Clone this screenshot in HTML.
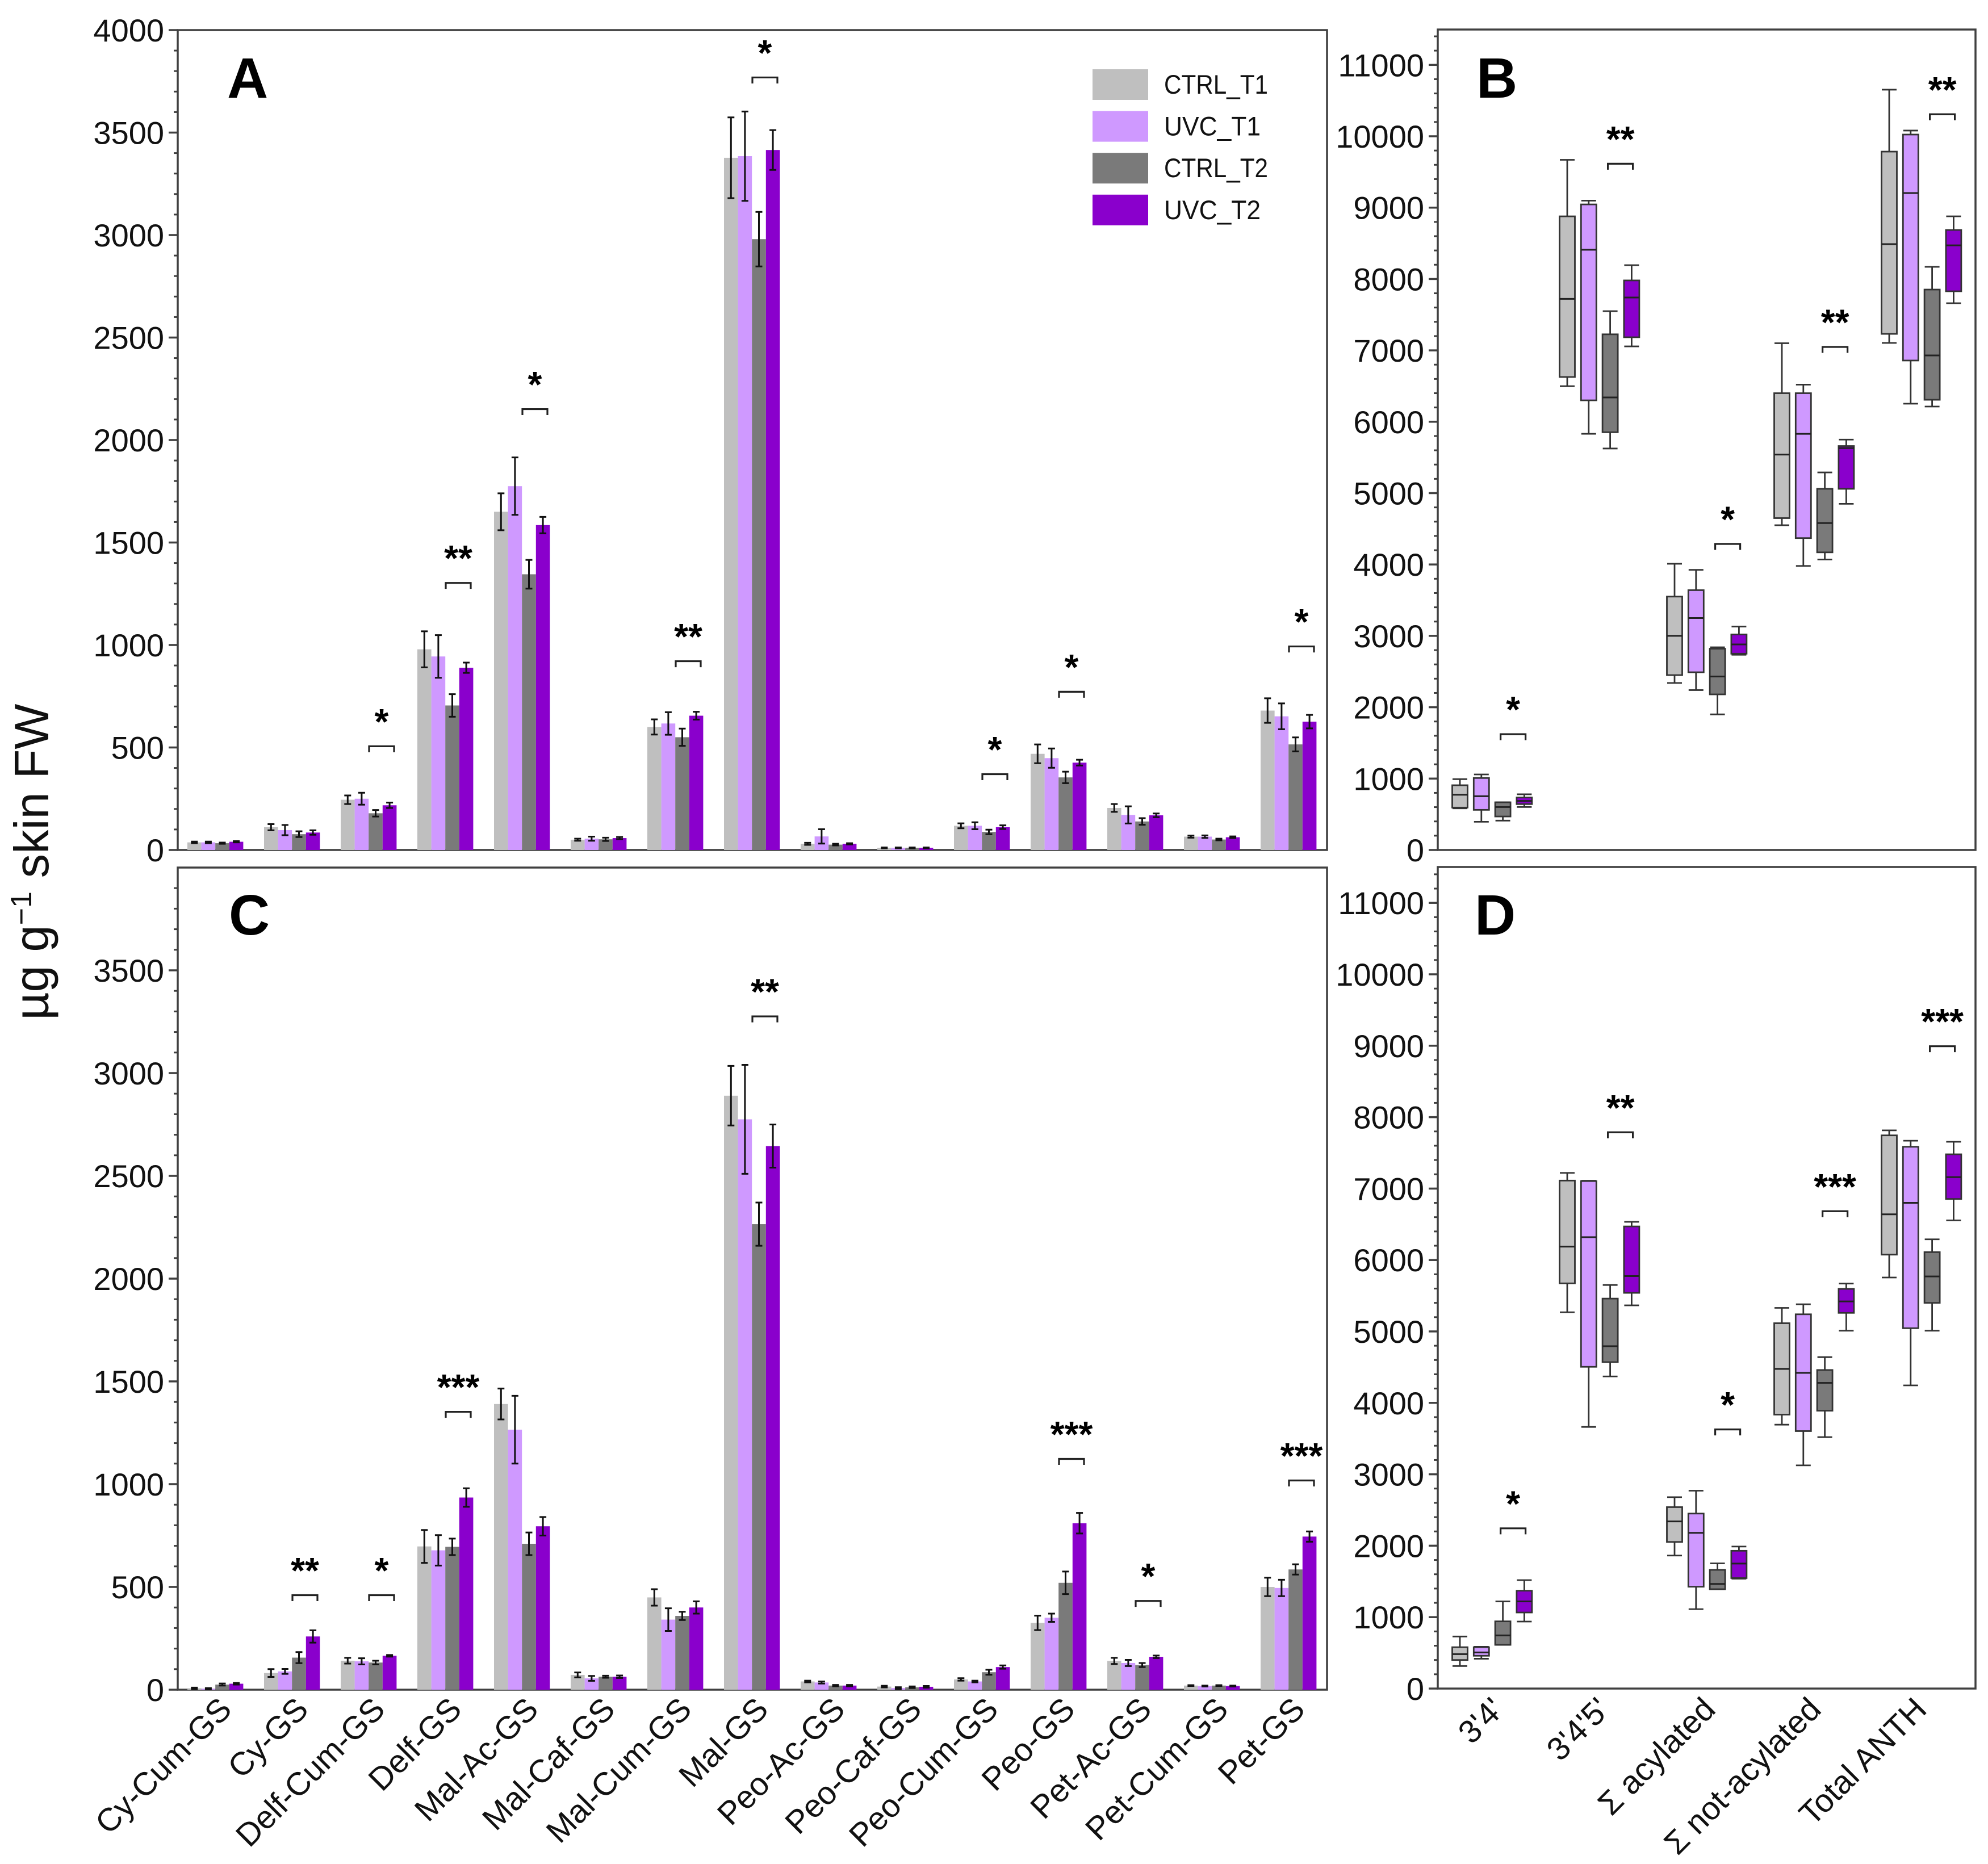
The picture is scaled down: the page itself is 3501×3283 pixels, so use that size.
<!DOCTYPE html>
<html>
<head>
<meta charset="utf-8">
<title>Anthocyanin chart</title>
<style>
html,body{margin:0;padding:0;background:#fff}
svg{display:block}
text{font-family:"Liberation Sans",sans-serif;fill:#111}
</style>
</head>
<body>
<svg id="chart" xmlns="http://www.w3.org/2000/svg" width="3501" height="3283" viewBox="0 0 3501 3283">
<rect width="3501" height="3283" fill="#fff"/>
<text transform="translate(85,1518) rotate(-90)" text-anchor="middle" font-size="85">µg g<tspan dy="-30" font-size="52">−1</tspan><tspan dy="30"> skin FW</tspan></text>
</svg>
<script>
const categories = ["Cy-Cum-GS","Cy-GS","Delf-Cum-GS","Delf-GS","Mal-Ac-GS","Mal-Caf-GS","Mal-Cum-GS","Mal-GS","Peo-Ac-GS","Peo-Caf-GS","Peo-Cum-GS","Peo-GS","Pet-Ac-GS","Pet-Cum-GS","Pet-GS"];
const boxCategories = ["3'4'","3'4'5'","Σ acylated","Σ not-acylated","Total ANTH"];
const seriesNames = ["CTRL_T1","UVC_T1","CTRL_T2","UVC_T2"];
const seriesColors = ["#bfbfbf","#cf99ff","#7a7a7a","#8a00cc"];

const barTicksA = [0,500,1000,1500,2000,2500,3000,3500,4000];
const barTicksC = [0,500,1000,1500,2000,2500,3000,3500];
const boxTicks = [0,1000,2000,3000,4000,5000,6000,7000,8000,9000,10000,11000];

const aCtrlT1 = [37,111,245,979,1650,50,600,3377,30,10,118,469,205,65,680];
const aUvcT1 = [37,97,250,944,1775,55,617,3385,66,10,118,448,171,65,652];
const aCtrlT2 = [33,77,179,705,1345,52,550,2980,26,10,88,354,139,51,515];
const aUvcT2 = [40,85,218,889,1585,58,655,3415,30,10,111,426,169,62,626];
const aErrCtrlT1 = [4,15,21,88,90,5,37,197,5,2,12,46,19,5,60];
const aErrUvcT1 = [4,25,29,104,140,10,55,218,35,2,17,47,42,6,63];
const aErrCtrlT2 = [3,14,16,55,70,8,42,133,4,2,11,28,16,4,34];
const aErrUvcT2 = [3,11,13,25,40,5,19,97,3,2,9,14,9,4,33];
const aSigGroups = [2,3,4,6,7,10,11,14];
const aSigLevels = [510,1307,2155,925,3773,374,776,997];
const aSigStars = ["*","**","*","**","*","*","*","*"];

const cCtrlT1 = [7,81,141,697,1390,72,449,2890,40,15,50,325,140,20,500];
const cUvcT1 = [5,89,138,678,1265,55,341,2775,35,8,40,350,130,18,495];
const cCtrlT2 = [25,156,132,695,710,63,359,2265,20,12,85,520,120,20,585];
const cUvcT2 = [29,259,165,935,795,63,400,2645,20,14,110,810,160,18,745];
const cErrCtrlT1 = [3,19,14,80,75,12,40,145,4,4,6,35,15,2,45];
const cErrUvcT1 = [3,12,15,74,165,12,55,265,5,4,4,20,15,2,40];
const cErrCtrlT2 = [5,27,9,40,55,5,20,105,3,4,12,55,10,2,25];
const cErrUvcT2 = [4,30,4,45,45,6,30,105,3,4,8,50,6,2,25];
const cSigGroups = [1,2,3,7,11,12,14];
const cSigLevels = [464,464,1356,3280,1127,436,1022];
const cSigStars = ["**","*","***","**","***","*","***"];

/* box stats: [low whisker, q1, median, q3, high whisker] */
const bCtrlT1 = [[583,594,774,907,992],[6498,6627,7722,8878,9670],[2340,2450,3000,3550,4010],[4550,4650,5540,6400,7100],[7104,7231,8488,9785,10653]];
const bUvcT1 = [[395,562,753,1008,1058],[5831,6300,8410,9045,9098],[2240,2490,3250,3640,3925],[3980,4370,5830,6400,6520],[6253,6858,9204,10024,10080]];
const bCtrlT2 = [[411,469,602,668,668],[5625,5853,6340,7225,7550],[1900,2180,2430,2820,2840],[4070,4170,4580,5060,5290],[6213,6308,6929,7852,8170]];
const bUvcT2 = [[602,642,687,735,780],[7056,7184,7741,7980,8194],[2735,2750,2880,3020,3130],[4850,5060,5630,5660,5750],[7661,7828,8472,8687,8878]];
const bSigLevels = [1634,9627,4300,7060,10320];
const bSigStars = ["*","**","*","**","**"];

const dCtrlT1 = [[315,400,482,579,729],[5268,5673,6187,7112,7220],[1862,2053,2340,2540,2680],[3695,3835,4475,5115,5330],[5755,6075,6640,7745,7815]];
const dUvcT1 = [[418,459,506,579,585],[3663,4505,6320,7105,7110],[1112,1426,2180,2450,2770],[3125,3605,4420,5240,5380],[4245,5045,6800,7585,7670]];
const dCtrlT2 = [[612,612,744,941,1220],[4370,4570,4793,5460,5650],[1391,1391,1465,1662,1753],[3520,3890,4280,4460,4640],[5010,5400,5770,6110,6290]];
const dUvcT2 = [[938,1065,1220,1370,1518],[5365,5540,5775,6470,6534],[1538,1547,1750,1929,1988],[5010,5260,5420,5595,5670],[6555,6855,7160,7480,7655]];
const dSigLevels = [2255,7800,3640,6695,9005];
const dSigStars = ["*","**","*","***","***"];

const svg = document.getElementById('chart');
const NS = 'http://www.w3.org/2000/svg';
const AXIS = '#404040';

function mk(tag, attrs, text) {
  const el = document.createElementNS(NS, tag);
  for (const k in attrs) el.setAttribute(k, attrs[k]);
  if (text !== undefined) el.textContent = text;
  svg.appendChild(el);
  return el;
}

const yA = v => 1497 - v * 0.361;
const yC = v => 2976 - v * 0.362;
const yB = v => 1497 - v * 0.1257;
const yD = v => 2974 - v * 0.1258;
const barGroupX = i => 330 + i * 135;
const barX = (i, s) => barGroupX(i) + s * 24.6;
const boxX = (i, s) => 2571 + i * 189 + s * 37.8;

function drawFrame(name, left, right, top, bottom) {
  const f = mk('rect', {x:left, y:top, width:right-left, height:bottom-top, fill:'none', stroke:AXIS, 'stroke-width':3.5});
  
  
}

function drawTicks(name, yScale, left, ticks, minorStep, minorMax, fontSize) {
  for (let v = 0; v <= minorMax + 0.01; v += minorStep) {
    const m = mk('line', {x1:left-7, x2:left, y1:yScale(v), y2:yScale(v), stroke:AXIS, 'stroke-width':3});
    
    
  }
  ticks.forEach(v => {
    const t = mk('line', {x1:left-16, x2:left, y1:yScale(v), y2:yScale(v), stroke:AXIS, 'stroke-width':3.5});
    
    
    const l = mk('text', {x:left-24, y:yScale(v)+20, 'text-anchor':'end', 'font-size':fontSize}, String(v));
    
    
  });
}

function drawSig(name, cx, y, stars) {
  const b = mk('path', {d:`M${cx-22} ${y+12}V${y+1.5}H${cx+22}V${y+12}`, fill:'none', stroke:'#222', 'stroke-width':3.2});
  
  
  const s = mk('text', {x:cx, y:y-20, 'text-anchor':'middle', 'font-size':64, 'font-weight':'bold', style:'fill:#000'}, stars);
  
  
}

function drawBars(name, yScale, series, errs, sigGroups, sigLevels, sigStars) {
  series.forEach((vals, s) => {
    vals.forEach((v, i) => {
      const r = mk('rect', {x:barX(i,s), y:yScale(v), width:24.6, height:yScale(0)-yScale(v), fill:seriesColors[s]});
      
      
    });
  });
  series.forEach((vals, s) => {
    vals.forEach((v, i) => {
      const cx = barX(i,s) + 12.3, e = errs[s][i];
      const eb = mk('path', {d:`M${cx-6} ${yScale(v+e)}H${cx+6}M${cx} ${yScale(v+e)}V${yScale(v-e)}M${cx-6} ${yScale(v-e)}H${cx+6}`, fill:'none', stroke:'#111', 'stroke-width':3});
      
      
    });
  });
  sigGroups.forEach((g, k) => drawSig(name, barGroupX(g) + 72, yScale(sigLevels[k]), sigStars[k]));
}

function drawBoxes(name, yScale, series, sigLevels, sigStars) {
  series.forEach((stats, s) => {
    stats.forEach((st, i) => {
      const cx = boxX(i,s);
      const w = mk('path', {d:`M${cx-13} ${yScale(st[0])}H${cx+13}M${cx} ${yScale(st[0])}V${yScale(st[4])}M${cx-13} ${yScale(st[4])}H${cx+13}`, fill:'none', stroke:'#333', 'stroke-width':2.8});
      
      
      const b = mk('rect', {x:cx-13.5, y:yScale(st[3]), width:27, height:yScale(st[1])-yScale(st[3]), fill:seriesColors[s], stroke:'#333', 'stroke-width':2.8});
      
      
      const m = mk('line', {x1:cx-13.5, x2:cx+13.5, y1:yScale(st[2]), y2:yScale(st[2]), stroke:'#222', 'stroke-width':3});
      
      
    });
  });
  sigLevels.forEach((lv, i) => drawSig(name, boxX(i,2) + 18, yScale(lv), sigStars[i]));
}

function panelLetter(letter, x, y) {
  const t = mk('text', {x:x, y:y, 'font-size':100, 'font-weight':'bold', style:'fill:#000'}, letter);
  
  
}

/* Panel A */
drawFrame('panel-a', 313, 2337, 53, 1497);
drawTicks('panel-a-y-axis', yA, 313, barTicksA, 100, 4000, 56);
drawBars('panel-a', yA, [aCtrlT1,aUvcT1,aCtrlT2,aUvcT2], [aErrCtrlT1,aErrUvcT1,aErrCtrlT2,aErrUvcT2], aSigGroups, aSigLevels, aSigStars);
panelLetter('A', 400, 172);

/* Panel B */
drawFrame('panel-b', 2532, 3479, 52, 1497);
drawTicks('panel-b-y-axis', yB, 2532, boxTicks, 200, 11400, 56);
drawBoxes('panel-b', yB, [bCtrlT1,bUvcT1,bCtrlT2,bUvcT2], bSigLevels, bSigStars);
panelLetter('B', 2600, 172);

/* Panel C */
drawFrame('panel-c', 313, 2337, 1528, 2976);
drawTicks('panel-c-y-axis', yC, 313, barTicksC, 100, 3900, 56);
drawBars('panel-c', yC, [cCtrlT1,cUvcT1,cCtrlT2,cUvcT2], [cErrCtrlT1,cErrUvcT1,cErrCtrlT2,cErrUvcT2], cSigGroups, cSigLevels, cSigStars);
panelLetter('C', 403, 1646);

/* Panel D */
drawFrame('panel-d', 2532, 3479, 1527, 2974);
drawTicks('panel-d-y-axis', yD, 2532, boxTicks, 200, 11400, 56);
drawBoxes('panel-d', yD, [dCtrlT1,dUvcT1,dCtrlT2,dUvcT2], dSigLevels, dSigStars);
panelLetter('D', 2597, 1646);

/* X labels */
categories.forEach((c, i) => {
  const x = barGroupX(i) + 49 + 32;
  const t = mk('text', {transform:`translate(${x},3014) rotate(-45)`, 'text-anchor':'end', 'font-size':57}, c);
  
  
});
boxCategories.forEach((c, i) => {
  const x = 2652 + i * 186;
  const t = mk('text', {transform:`translate(${x},3014) rotate(-45)`, 'text-anchor':'end', 'font-size':57}, c);
  
  
});

/* Legend */
seriesNames.forEach((n, s) => {
  const y = 122 + s * 73.6;
  const r = mk('rect', {x:1924, y:y, width:98, height:54, fill:seriesColors[s]});
  
  
  const t = mk('text', {x:2050, y:y+43, 'font-size':47, textLength:n.startsWith('CTRL') ? 183 : 170, lengthAdjust:'spacingAndGlyphs'}, n);
  
  
});
</script>
</body>
</html>
